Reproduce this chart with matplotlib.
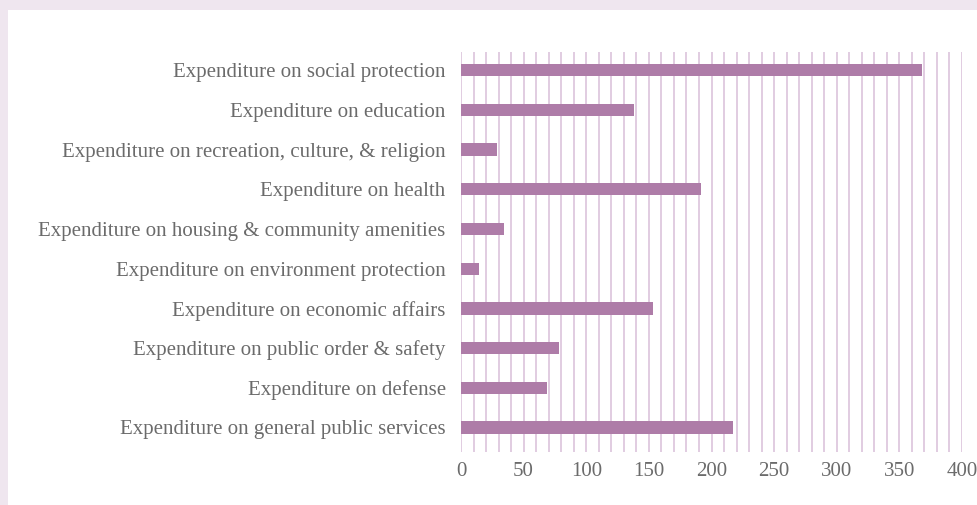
import numpy as np
import matplotlib.pyplot as plt

categories = [
    'Expenditure on general public services',
    'Expenditure on defense',
    'Expenditure on public order & safety',
    'Expenditure on economic affairs',
    'Expenditure on environment protection',
    'Expenditure on housing & community amenities',
    'Expenditure on health',
    'Expenditure on recreation, culture, & religion',
    'Expenditure on education',
    'Expenditure on social protection',
]
values = [217, 69, 78, 153, 14, 34, 192, 29, 138, 368]
xticks = [0, 50, 100, 150, 200, 250, 300, 350, 400]

bar_color = '#ae7ca8'
grid_color = '#dcc3dc'
text_color = '#6b6b6b'

plt.rcParams['font.family'] = ['Liberation Serif', 'DejaVu Serif']

fig = plt.figure(figsize=(9.78, 5.05), dpi=100)
fig.patch.set_facecolor('#efe6ef')

# white panel inside the lavender frame
bg = fig.add_axes([8 / 978, 0, 1 - 8 / 978, 1 - 10 / 505], zorder=-1)
bg.set_facecolor('white')
bg.set_xticks([])
bg.set_yticks([])
for s in bg.spines.values():
    s.set_visible(False)

ax = fig.add_axes([461 / 978, 1 - 452 / 505, (962 - 461) / 978, 400 / 505])
ax.set_facecolor('none')

y = np.arange(len(categories))
ax.barh(y, values, height=0.31, color=bar_color, zorder=3)

ax.set_xlim(0, 400)
ax.set_ylim(-0.62, 9.46)
for gx in np.arange(0, 401, 10):
    ax.axvline(gx, color=grid_color, lw=1.2, zorder=1)

ax.set_xticks(xticks)
ax.set_xticklabels([str(v) for v in xticks])
ax.set_yticks(y)
ax.set_yticklabels(categories)
ax.tick_params(axis='both', length=0, labelsize=15, colors=text_color)
ax.tick_params(axis='x', pad=7)
ax.tick_params(axis='y', pad=11)
for s in ax.spines.values():
    s.set_visible(False)

fig.savefig('out.png', dpi=100, facecolor=fig.get_facecolor())
